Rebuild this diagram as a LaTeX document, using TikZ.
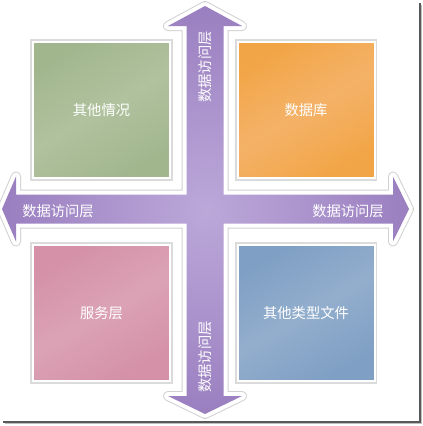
\documentclass[tikz,border=0pt]{standalone}
\usepackage{fontspec}
\newfontfamily\cjk{Noto Sans CJK SC}
\definecolor{arrowin}{HTML}{BCA8D9}
\definecolor{arrowout}{HTML}{9A7FC0}
\definecolor{sqgreen}{HTML}{A2B68E}
\definecolor{sqgreenl}{HTML}{B0C29E}
\definecolor{sqorange}{HTML}{F2A546}
\definecolor{sqorangel}{HTML}{F4B268}
\definecolor{sqpink}{HTML}{D491A7}
\definecolor{sqpinkl}{HTML}{DBA2B5}
\definecolor{sqblue}{HTML}{7F9FC4}
\definecolor{sqbluel}{HTML}{93AECD}
\tikzset{
  lbl/.style={text=white, font=\cjk\fontsize{14.3}{16}\selectfont, inner sep=0pt},
  sq/.style={minimum width=137pt, minimum height=136pt, inner sep=0pt, draw=white, line width=2pt},
  sqshadow/.style={fill=black!14, draw=none},
}
\begin{document}
\begin{tikzpicture}[x=1pt,y=-1pt]
\useasboundingbox (0,0) rectangle (423,426);
\fill[white] (0,0) rectangle (423,426);
% page shadow
\draw[black!65, line width=2pt] (419.5,3) -- (419.5,421.5) -- (3,421.5);
\draw[black!25, line width=1pt] (421.5,5) -- (421.5,423.5) -- (5,423.5);
% cross arrow
\def\crosspath{(205,6) -- (242,26) -- (223.5,26) -- (223.5,194.5) -- (393,194.5) -- (393,176.5) -- (409,209) -- (393,241.5) -- (393,223.5) -- (223.5,223.5) -- (223.5,396) -- (242,396) -- (205,414) -- (168,396) -- (186.5,396) -- (186.5,223.5) -- (16,223.5) -- (16,241.5) -- (2,209) -- (16,176.5) -- (16,194.5) -- (186.5,194.5) -- (186.5,26) -- (168,26) -- cycle}
\draw[black!18, line width=10pt, line join=round] \crosspath;
\draw[white, line width=8pt, line join=round] \crosspath;
\shade[inner color=arrowin, outer color=arrowout, shading=radial] \crosspath;
% squares
\fill[sqshadow] (30,39) rectangle (173,181);
\fill[sqshadow] (235,39) rectangle (377,181);
\fill[sqshadow] (30,242) rectangle (173,384);
\fill[sqshadow] (235,242) rectangle (377,384);
\node[sq, left color=sqgreen, right color=sqgreen, middle color=sqgreenl, shading angle=30] (tl) at (101.5,110) {};
\node[sq, left color=sqorange, right color=sqorange, middle color=sqorangel, shading angle=30] (tr) at (306,110) {};
\node[sq, left color=sqpink, right color=sqpink, middle color=sqpinkl, shading angle=30] (bl) at (101.5,313) {};
\node[sq, left color=sqblue, right color=sqblue, middle color=sqbluel, shading angle=30] (br) at (306,313) {};
\node[lbl] (tlt) at (tl.center) {其他情况};
\node[lbl] (trt) at (tr.center) {数据库};
\node[lbl] (blt) at (bl.center) {服务层};
\node[lbl] (brt) at (br.center) {其他类型文件};
% arrow labels
\node[lbl, rotate=90] (up) at (205,67) {数据访问层};
\node[lbl, rotate=90] (down) at (205,357) {数据访问层};
\node[lbl] (left) at (58,211) {数据访问层};
\node[lbl] (right) at (348,211) {数据访问层};
\end{tikzpicture}
\end{document}
